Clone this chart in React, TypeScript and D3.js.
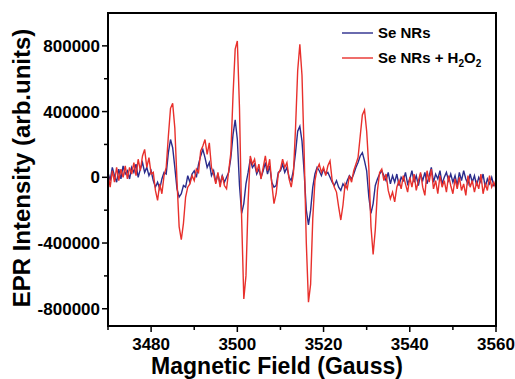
import React from "react";
import * as d3 from "d3";

// field sampling of the spectra (Gauss)
const fieldStart = 3470;
const fieldStep = 0.5;

// EPR intensity, thousands of arb. units, one value per 0.5 G from 3470 G
const seNRs = [
  30, -20, 60, 10, -30, 50, -10, 70, 20, 40,
  -10, 60, 30, 80, 0, 50, 90, 30, 60, 10,
  40, -20, -60, -30, -70, -10, 30, 20, 150, 230,
  180, 60, -70, -120, -100, -50, -60, 10, -30, 20,
  40, 0, 80, 130, 170, 120, 60, 90, 10, 40,
  -30, 20, -40, 10, -30, 0, 30, 120, 260, 350,
  230, -50, -220, -160, -40, 30, 110, 60, 80, 20,
  50, 0, 40, 90, 20, 70, -30, -60, -50, 30,
  40, 80, 30, 60, 0, -20, 40, 150, 280, 310,
  220, 30, -200, -290, -200, -60, 20, 60, 40, 10,
  50, 20, 30, 0, -30, -50, -20, -60, -80, -40,
  -60, -20, 10, -10, 20, 60, 90, 130, 150, 100,
  40, -120, -220, -160, -50, -10, 20, 40, 10, -20,
  30, -40, 10, -30, 20, -50, 0, -20, 30, -40,
  -10, 40, -30, 10, -50, 20, -20, 30, -40, 10,
  60, -30, 20, -10, 40, -40, 0, 30, -20, 20,
  -30, 10, -50, 30, -20, 40, -10, -40, 20, -30,
  10, -50, 0, -30, 20, -60, -10, -40, 0, -50,
  -40,
];

const seNRsH2O2 = [
  20, -60, 40, -30, 60, -20, 50, 0, 70, -10,
  60, 20, 90, 10, 110, 40, 130, 170, 60, 120,
  20, 30, -80, -140, -40, -100, 10, 60, 250, 420,
  450, 300, -20, -300, -380, -280, -120, -60, -40, 10,
  -20, 50, 30, 160, 190, 230, 140, 210, 60, 20,
  -40, 30, -60, 10, -50, -70, 40, 150, 500, 780,
  830, 420, -250, -740, -600, -150, 130, 80, 110, 30,
  80, -10, 60, 130, 40, 110, -40, -160, -100, 20,
  50, 110, 60, 90, -10, -60, 20, 300, 650, 810,
  620, 150, -400, -760, -650, -250, -20, 50, 80, 30,
  60, 10, 70, 100, -20, -60, -90, -180, -260, -170,
  -40, -70, 10, -30, 40, 80, 120, 250, 380, 410,
  280, 60, -300, -470, -320, -80, 30, 50, -20, 20,
  -80, -130, -90, -150, -60, -20, -70, 10, -40, -90,
  0, -60, 20, -80, -20, 30, -60, -110, 40, -30,
  50, -70, -20, -100, 10, -60, -20, -90, 10, -50,
  -100, -10, -70, 0, -80, -40, -110, 10, -60, -20,
  -90, -30, -70, 20, -100, -40, -80, 10, -60, -30,
  -70,
];

const xTicks = [3480, 3500, 3520, 3540, 3560];
const xMinorTicks = [3470, 3490, 3510, 3530, 3550];
const yTicks = [800000, 400000, 0, -400000, -800000];
const yMinorTicks = [600000, 200000, -200000, -600000];

const width = 515;
const height = 379;
const margin = { top: 13, right: 19, bottom: 53, left: 108 };
const blue = "#2a2c8c";
const red = "#e8302c";
const font = "'Liberation Sans', Arial, sans-serif";

const App = () => {
  const x = d3
    .scaleLinear()
    .domain([3470, 3560])
    .range([margin.left, width - margin.right]);
  const y = d3
    .scaleLinear()
    .domain([-905000, 1000000])
    .range([height - margin.bottom, margin.top]);

  const line = d3
    .line<number>()
    .x((d, i) => x(fieldStart + i * fieldStep))
    .y(d => y(d * 1000));

  const bottom = height - margin.bottom;
  const left = margin.left;

  return (
    <svg
      width={width}
      height={height}
      style={{ position: "absolute", left: 0, top: 0, background: "#fff" }}
      fontFamily={font}
      fontWeight="bold"
    >
      <path d={line(seNRs)} fill="none" stroke={blue} strokeWidth={1.4} />
      <path d={line(seNRsH2O2)} fill="none" stroke={red} strokeWidth={1.4} />

      <rect
        x={left}
        y={margin.top}
        width={width - margin.right - left}
        height={bottom - margin.top}
        fill="none"
        stroke="#000"
        strokeWidth={2}
      />

      {xTicks.map(t => (
        <g key={"x" + t}>
          <line x1={x(t)} x2={x(t)} y1={bottom} y2={bottom + 6} stroke="#000" strokeWidth={1.5} />
          <text x={x(t)} y={bottom + 24} textAnchor="middle" fontSize={17}>
            {t}
          </text>
        </g>
      ))}
      {xMinorTicks.map(t => (
        <line key={"xm" + t} x1={x(t)} x2={x(t)} y1={bottom} y2={bottom + 4} stroke="#000" strokeWidth={1.5} />
      ))}
      {yTicks.map(t => (
        <g key={"y" + t}>
          <line x1={left - 6} x2={left} y1={y(t)} y2={y(t)} stroke="#000" strokeWidth={1.5} />
          <text x={left - 8} y={y(t) + 6} textAnchor="end" fontSize={17}>
            {t}
          </text>
        </g>
      ))}
      {yMinorTicks.map(t => (
        <line key={"ym" + t} x1={left - 4} x2={left} y1={y(t)} y2={y(t)} stroke="#000" strokeWidth={1.5} />
      ))}

      <text x={(left + width - margin.right) / 2 - 25} y={374} textAnchor="middle" fontSize={23}>
        Magnetic Field (Gauss)
      </text>
      <text
        transform={`translate(30, ${168}) rotate(-90)`}
        textAnchor="middle"
        fontSize={24}
      >
        EPR Intensity (arb.units)
      </text>

      {/* legend */}
      <line x1={342} x2={373} y1={33} y2={33} stroke={blue} strokeWidth={1.4} />
      <text x={378} y={38} fontSize={15}>Se NRs</text>
      <line x1={342} x2={373} y1={58} y2={58} stroke={red} strokeWidth={1.4} />
      <text x={378} y={63} fontSize={15}>
        Se NRs + H
        <tspan fontSize={10} dy={4}>2</tspan>
        <tspan dy={-4}>O</tspan>
        <tspan fontSize={10} dy={4}>2</tspan>
      </text>
    </svg>
  );
};

export default App;
